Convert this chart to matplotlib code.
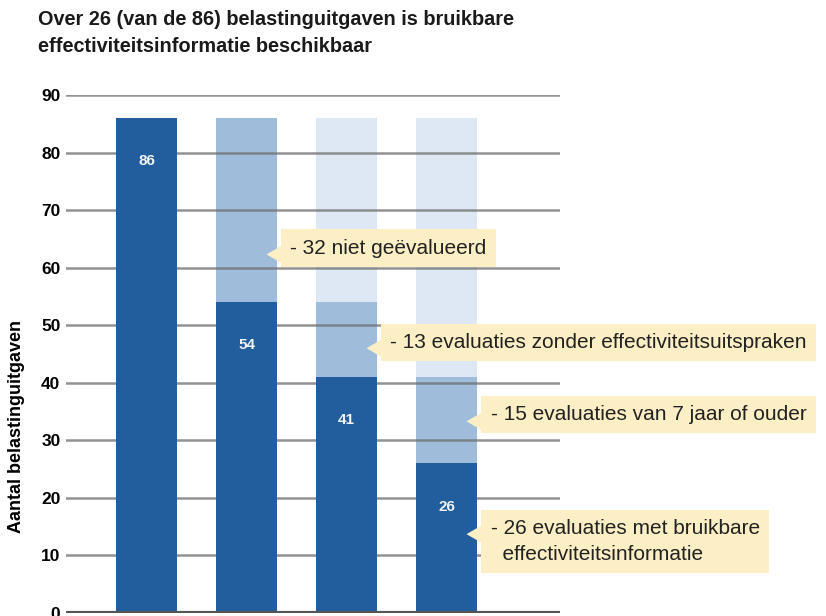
import numpy as np
import matplotlib
matplotlib.use("Agg")
from matplotlib import pyplot as plt
from matplotlib.patches import Polygon

plt.rcParams["font.family"] = ["Liberation Sans", "DejaVu Sans"]

# data
bars = ["totaal", "geevalueerd", "met uitspraken", "bruikbaar"]
dark = [86, 54, 41, 26]
mid = [0, 32, 13, 15]
light = [0, 0, 32, 45]
bar_labels = ["86", "54", "41", "26"]
yticks = [0, 10, 20, 30, 40, 50, 60, 70, 80, 90]

callout_texts = [
    "- 32 niet geëvalueerd",
    "- 13 evaluaties zonder effectiviteitsuitspraken",
    "- 15 evaluaties van 7 jaar of ouder",
    "- 26 evaluaties met bruikbare\n  effectiviteitsinformatie",
]
callout_bar = [1, 2, 3, 3]
callout_tip_y = [62.3, 46.0, 33.3, 13.7]
callout_text_y = [63.4, 47.0, 34.5, 12.4]

C_DARK = "#225e9e"
C_MID = "#9fbddb"
C_LIGHT = "#dde8f4"
C_NOTE = "#fcefc6"

fig = plt.figure(figsize=(8.26, 6.16), dpi=100)
ax = fig.add_axes([66 / 826, 3 / 616, 494 / 826, 518 / 616])

x = np.arange(len(bars))
w = 0.61
# light segments under the grid, dark on top of it
ax.bar(x, mid, w, bottom=dark, color=C_MID, zorder=1)
ax.bar(x, light, w, bottom=np.add(dark, mid), color=C_LIGHT, zorder=1)
ax.bar(x, dark, w, color=C_DARK, zorder=3)

for xi, v, lab in zip(x, dark, bar_labels):
    ax.text(xi, v - 7.5, lab, ha="center", va="center", color="#eef3fa",
            fontsize=11, fontweight="bold", zorder=4)

for g in yticks[1:]:
    ax.axhline(g, color="#6e6e6e", lw=1.8, alpha=0.75, zorder=2)
ax.axhline(0, color="#555555", lw=3, zorder=4)

ax.set_xlim(-0.805, 4.135)
ax.set_ylim(0, 90)
ax.set_yticks(yticks)
ax.set_yticklabels([str(t) for t in yticks], fontsize=12.5, fontweight="bold")
ax.tick_params(axis="y", length=0, pad=4)
ax.set_xticks([])
for s in ax.spines.values():
    s.set_visible(False)
ax.set_ylabel("Aantal belastinguitgaven", fontsize=13, fontweight="bold")
ax.yaxis.set_label_coords(-0.083, 0.36)

# callouts
for txt, bi, ty, tty in zip(callout_texts, callout_bar, callout_tip_y, callout_text_y):
    tip_x = bi + 0.2
    box_x = bi + 0.36
    ax.text(bi + 0.44, tty, txt, ha="left", va="center", fontsize=15,
            color="#222222", linespacing=1.45, zorder=5, clip_on=False,
            bbox=dict(boxstyle="square,pad=0.45", fc=C_NOTE, ec="none"))
    ax.add_patch(Polygon([[tip_x, ty], [box_x, ty + 1.6], [box_x, ty - 1.6]],
                         closed=True, fc=C_NOTE, ec="none", zorder=5, clip_on=False))

fig.text(38 / 826, 1 - 10 / 616,
         "Over 26 (van de 86) belastinguitgaven is bruikbare\neffectiviteitsinformatie beschikbaar",
         ha="left", va="top", fontsize=14.3, fontweight="bold", color="#1a1a1a",
         linespacing=1.5)

fig.savefig("out.png", dpi=100)
